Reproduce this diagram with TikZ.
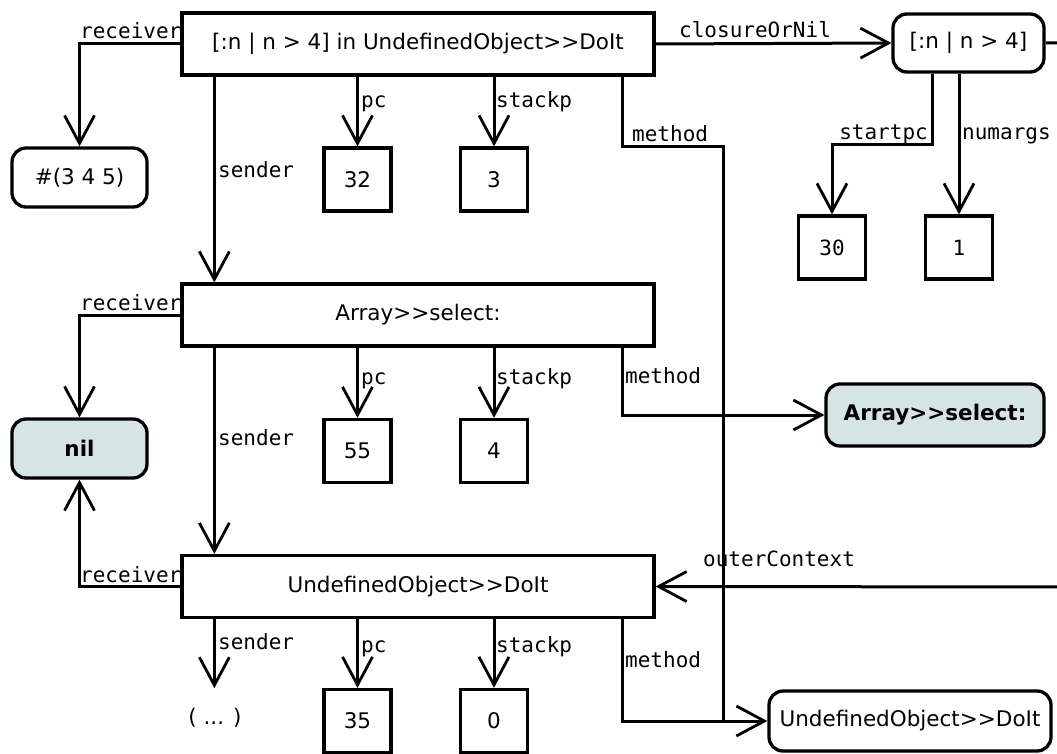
\documentclass[tikz,border=0pt]{standalone}
\usepackage{fontspec}
\setmainfont{DejaVu Sans}[Ligatures=TeXOff]
\setmonofont{DejaVu Sans Mono}
\usetikzlibrary{arrows.meta}
\definecolor{objfill}{RGB}{214,228,228}
\begin{document}
\begin{tikzpicture}[x=1pt,y=-1pt,
  box/.style={draw,line width=3.3pt,inner sep=0pt,font=\fontsize{21.5}{24}\selectfont},
  ctxbox/.style={box,minimum width=472pt,minimum height=62pt},
  rbox/.style={box,rounded corners=14pt},
  obj/.style={rbox,fill=objfill,font=\fontsize{21.5}{24}\selectfont\bfseries},
  numbox/.style={box,minimum width=67pt,minimum height=63pt},
  link/.style={line width=3pt},
  arr/.style={link,-{Straight Barb[length=28pt,width=30pt,line width=2.8pt]}},
  lbl/.style={inner sep=0pt,font=\fontsize{21}{23}\selectfont\ttfamily},
]
\useasboundingbox (0,0) rectangle (1057,754);
\clip (0,0) rectangle (1057,754);

% contexts
\node[ctxbox] (c1) at (418,44) {[:n | n > 4] in UndefinedObject>{}>DoIt};
\node[ctxbox] (c2) at (418,315) {Array>{}>select:};
\node[ctxbox] (c3) at (418,586.5) {UndefinedObject>{}>DoIt};

% objects
\node[rbox,minimum width=135pt,minimum height=59pt] (arr345) at (79.5,177.5) {\#(3 4 5)};
\node[obj,minimum width=135pt,minimum height=59pt] (nil) at (79.5,448.5) {nil};
\node[rbox,minimum width=151pt,minimum height=58pt] (clo) at (968.5,43) {[:n | n > 4]};
\node[obj,minimum width=218pt,minimum height=62pt] (sel) at (935,415) {Array>{}>select:};
\node[rbox,minimum width=282pt,minimum height=60pt] (udo) at (910,721) {UndefinedObject>{}>DoIt};
\node[font=\fontsize{21.5}{24}\selectfont,inner sep=0pt] (dots) at (215,718) {( ... )};

% slot values
\node[numbox] (n32) at (357.5,179.5) {32};
\node[numbox] (n3) at (494,179.5) {3};
\node[numbox,font=\fontsize{21}{23}\selectfont\ttfamily] (n30) at (832,247.5) {30};
\node[numbox,font=\fontsize{21}{23}\selectfont\ttfamily] (n1) at (959,247.5) {1};
\node[numbox] (n55) at (357.5,451) {55};
\node[numbox] (n4) at (494,451) {4};
\node[numbox] (n35) at (357.5,721) {35};
\node[numbox] (n0) at (494,721) {0};

% helper corners
\coordinate (mbend) at (723,147);
\coordinate (oc1) at (1075,43);
\coordinate (oc2) at (1075,587);

% first context
\draw[arr] (c1.west) -| (arr345.north);
\draw[arr] ([xshift=34pt]c1.south west) -- ([xshift=34pt]c2.north west);
\draw[arr] (n32.north |- c1.south) -- (n32.north);
\draw[arr] (n3.north |- c1.south) -- (n3.north);
\draw[link] ([xshift=442pt]c1.south west) |- (mbend) -- (mbend |- udo.west);
\draw[arr] (c1.east) -- (clo.west);

% block closure
\draw[arr] ([xshift=41pt]clo.south west) -- ++(0,71) -| (n30.north);
\draw[arr] (n1.north |- clo.south) -- (n1.north);
\draw[arr] (clo.east) -- (oc1) -- (oc2) -- (c3.east);

% second context
\draw[arr] (c2.west) -| (nil.north);
\draw[arr] ([xshift=34pt]c2.south west) -- ([xshift=34pt]c3.north west);
\draw[arr] (n55.north |- c2.south) -- (n55.north);
\draw[arr] (n4.north |- c2.south) -- (n4.north);
\draw[arr] ([xshift=442pt]c2.south west) |- (sel.west);

% third context
\draw[arr] (c3.west) -| (nil.south);
\draw[arr] ([xshift=34pt]c3.south west) -- ++(0,69);
\draw[arr] (n35.north |- c3.south) -- (n35.north);
\draw[arr] (n0.north |- c3.south) -- (n0.north);
\draw[arr] ([xshift=442pt]c3.south west) |- (udo.west);

% slot names
\node[lbl,anchor=base west] (lrecv1) at (80,39) {receiver};
\node[lbl,anchor=base west] (lsend1) at (218,178) {sender};
\node[lbl,anchor=base west] (lpc1) at (361,108) {pc};
\node[lbl,anchor=base west] (lsp1) at (496,108) {stackp};
\node[lbl,anchor=base west] (lmeth1) at (632,142) {method};
\node[lbl,anchor=base west] (lclos) at (679,38) {closureOrNil};
\node[lbl,anchor=base east] (lstart) at (928,140) {startpc};
\node[lbl,anchor=base west] (lnum) at (962,140) {numargs};

\node[lbl,anchor=base west] (lrecv2) at (80,310) {receiver};
\node[lbl,anchor=base west] (lsend2) at (218,445) {sender};
\node[lbl,anchor=base west] (lpc2) at (361,384) {pc};
\node[lbl,anchor=base west] (lsp2) at (496,384) {stackp};
\node[lbl,anchor=base west] (lmeth2) at (625,383) {method};

\node[lbl,anchor=base west] (lrecv3) at (80,582) {receiver};
\node[lbl,anchor=base west] (lsend3) at (218,649) {sender};
\node[lbl,anchor=base west] (lpc3) at (361,652) {pc};
\node[lbl,anchor=base west] (lsp3) at (496,652) {stackp};
\node[lbl,anchor=base west] (lmeth3) at (625,667) {method};
\node[lbl,anchor=base west] (louter) at (703,566) {outerContext};
\end{tikzpicture}
\end{document}
